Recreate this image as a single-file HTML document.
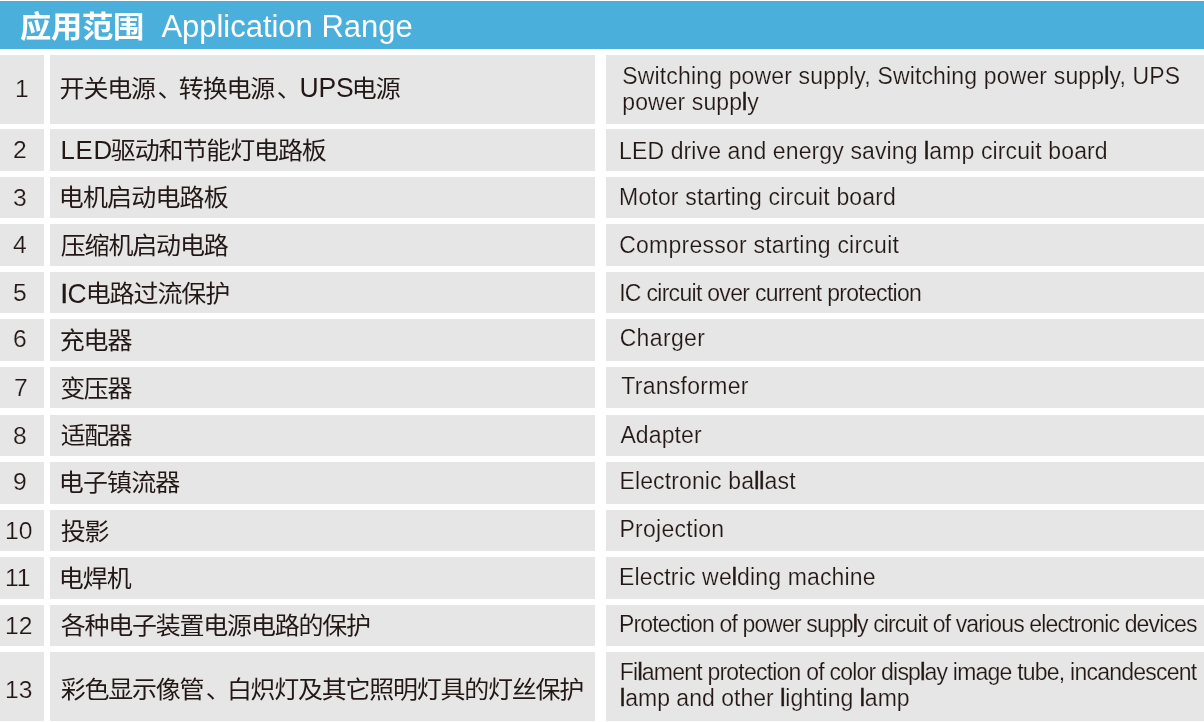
<!DOCTYPE html>
<html lang="zh"><head><meta charset="utf-8"><title>应用范围 Application Range</title>
<style>
html,body{margin:0;padding:0;background:#fff;}
body{width:1204px;height:722px;position:relative;overflow:hidden;font-family:"Liberation Sans","Noto Sans CJK SC",sans-serif;color:#231815;}
svg.bg{position:absolute;left:0;top:0;display:block;}
.t{position:absolute;white-space:nowrap;line-height:30px;height:30px;transform-origin:0 50%;}
.hz{font-size:31.3px;font-weight:bold;color:#fff;line-height:40px;height:40px;transform:scaleY(0.957);}
.he{font-size:31px;color:#fff;line-height:40px;height:40px;}
.n{font-size:23px;transform:scaleX(1.07);-webkit-text-stroke:0.18px #e6e6e6;}
.z{font-size:25px;transform:scaleY(0.945);}
.z i{font-style:normal;font-size:26.5px;line-height:1;letter-spacing:0.4px;display:inline-block;position:relative;top:1.7px;transform:scaleY(1.087);transform-origin:50% 85%;}
.z s{text-decoration:none;position:relative;left:2.5px;}
.z b{font-weight:normal;-webkit-text-stroke:0.5px #231815;margin-right:-1px}
.e{font-size:23px;-webkit-text-stroke:0.18px #e6e6e6;}
.e u{text-decoration:none;-webkit-text-stroke:0.5px #231815;}
</style></head><body>
<svg class="bg" width="1204" height="722" viewBox="0 0 1204 722">
<rect x="0" y="1" width="1204" height="48" fill="#4ab0db"/>
<g fill="#e6e6e6">
<rect x="0" y="55" width="44" height="69"/>
<rect x="50" y="55" width="545" height="69"/>
<rect x="606" y="55" width="598" height="69"/>
<rect x="0" y="129" width="44" height="42"/>
<rect x="50" y="129" width="545" height="42"/>
<rect x="606" y="129" width="598" height="42"/>
<rect x="0" y="177" width="44" height="41"/>
<rect x="50" y="177" width="545" height="41"/>
<rect x="606" y="177" width="598" height="41"/>
<rect x="0" y="224" width="44" height="42"/>
<rect x="50" y="224" width="545" height="42"/>
<rect x="606" y="224" width="598" height="42"/>
<rect x="0" y="272" width="44" height="41"/>
<rect x="50" y="272" width="545" height="41"/>
<rect x="606" y="272" width="598" height="41"/>
<rect x="0" y="319" width="44" height="42"/>
<rect x="50" y="319" width="545" height="42"/>
<rect x="606" y="319" width="598" height="42"/>
<rect x="0" y="367" width="44" height="41"/>
<rect x="50" y="367" width="545" height="41"/>
<rect x="606" y="367" width="598" height="41"/>
<rect x="0" y="415" width="44" height="41"/>
<rect x="50" y="415" width="545" height="41"/>
<rect x="606" y="415" width="598" height="41"/>
<rect x="0" y="462" width="44" height="42"/>
<rect x="50" y="462" width="545" height="42"/>
<rect x="606" y="462" width="598" height="42"/>
<rect x="0" y="510" width="44" height="41"/>
<rect x="50" y="510" width="545" height="41"/>
<rect x="606" y="510" width="598" height="41"/>
<rect x="0" y="557" width="44" height="42"/>
<rect x="50" y="557" width="545" height="42"/>
<rect x="606" y="557" width="598" height="42"/>
<rect x="0" y="605" width="44" height="41"/>
<rect x="50" y="605" width="545" height="41"/>
<rect x="606" y="605" width="598" height="41"/>
<rect x="0" y="652" width="44" height="69.15"/>
<rect x="50" y="652" width="545" height="69.15"/>
<rect x="606" y="652" width="598" height="69.15"/>
</g></svg>
<span id="hz" class="t hz" style="left:20.0px;top:6.8px;letter-spacing:-0.333px;">应用范围</span>
<span id="he" class="t he" style="left:161.4px;top:6.5px;letter-spacing:-0.022px;">Application Range</span>
<span id="n0" class="t n" style="left:14.7px;top:74.4px;letter-spacing:0px;">1</span>
<span id="z0" class="t z" style="left:59.6px;top:72.6px;letter-spacing:-1.164px;">开关电源<s>、</s>转换电源<s>、</s><i style="margin:0 -1.9px 0 1.5px;letter-spacing:-0.1px;top:1px">UPS</i>电源</span>
<span id="e0a" class="t e" style="left:622.25px;top:60.9px;letter-spacing:0.155px;">Switching power supply, Switching power supp<u>l</u>y, UPS</span>
<span id="e0b" class="t e" style="left:622.25px;top:86.6px;letter-spacing:0.086px;">power supp<u>l</u>y</span>
<span id="n1" class="t n" style="left:13.25px;top:135.0px;letter-spacing:0px;">2</span>
<span id="z1" class="t z" style="left:60.45px;top:135.0px;letter-spacing:-1.136px;"><i style="margin-right:-2.2px;letter-spacing:0.8px;font-size:25.8px;top:0.7px">LED</i>驱动和节能灯电路板</span>
<span id="e1a" class="t e" style="left:619.05px;top:135.91px;letter-spacing:0.118px;">LED drive and energy saving <u>l</u>amp circuit board</span>
<span id="n2" class="t n" style="left:13.25px;top:182.5px;letter-spacing:0px;">3</span>
<span id="z2" class="t z" style="left:58.75px;top:181.5px;letter-spacing:-0.842px;">电机启动电路板</span>
<span id="e2a" class="t e" style="left:619.05px;top:182.2px;letter-spacing:0.169px;">Motor starting circuit board</span>
<span id="n3" class="t n" style="left:13.45px;top:230.0px;letter-spacing:0px;">4</span>
<span id="z3" class="t z" style="left:60.75px;top:229.5px;letter-spacing:-1.175px;">压缩机启动电路</span>
<span id="e3a" class="t e" style="left:619.2px;top:229.5px;letter-spacing:0.237px;">Compressor starting circuit</span>
<span id="n4" class="t n" style="left:13.25px;top:277.55px;letter-spacing:0px;">5</span>
<span id="z4" class="t z" style="left:60.6px;top:277.55px;letter-spacing:-1.1px;"><i style="margin-right:-1.6px;letter-spacing:0.6px"><b>I</b>C</i>电路过流保护</span>
<span id="e4a" class="t e" style="left:619.2px;top:278.41px;letter-spacing:-0.705px;">IC circuit over current protection</span>
<span id="n5" class="t n" style="left:13.25px;top:324.02px;letter-spacing:0px;">6</span>
<span id="z5" class="t z" style="left:59.7px;top:324.52px;letter-spacing:-1.15px;">充电器</span>
<span id="e5a" class="t e" style="left:619.65px;top:322.6px;letter-spacing:0.367px;">Charger</span>
<span id="n6" class="t n" style="left:13.55px;top:372.6px;letter-spacing:0px;">7</span>
<span id="z6" class="t z" style="left:60.2px;top:373.1px;letter-spacing:-1.4px;">变压器</span>
<span id="e6a" class="t e" style="left:621.3px;top:371.01px;letter-spacing:0.27px;">Transformer</span>
<span id="n7" class="t n" style="left:13.25px;top:420.55px;letter-spacing:0px;">8</span>
<span id="z7" class="t z" style="left:60.7px;top:420.05px;letter-spacing:-1.55px;">适配器</span>
<span id="e7a" class="t e" style="left:620.4px;top:419.6px;letter-spacing:0.117px;">Adapter</span>
<span id="n8" class="t n" style="left:13.25px;top:466.9px;letter-spacing:0px;">9</span>
<span id="z8" class="t z" style="left:58.75px;top:466.9px;letter-spacing:-0.862px;">电子镇流器</span>
<span id="e8a" class="t e" style="left:619.45px;top:465.51px;letter-spacing:0.132px;">Electronic ba<u>ll</u>ast</span>
<span id="n9" class="t n" style="left:4.6px;top:515.5px;letter-spacing:0px;">10</span>
<span id="z9" class="t z" style="left:60.75px;top:515.5px;letter-spacing:-1.15px;">投影</span>
<span id="e9a" class="t e" style="left:619.45px;top:513.91px;letter-spacing:0.267px;">Projection</span>
<span id="n10" class="t n" style="left:4.6px;top:563.1px;letter-spacing:0px;">11</span>
<span id="z10" class="t z" style="left:58.75px;top:563.1px;letter-spacing:-1.0px;">电焊机</span>
<span id="e10a" class="t e" style="left:619.0px;top:561.6px;letter-spacing:0.148px;">Electric we<u>l</u>ding machine</span>
<span id="n11" class="t n" style="left:4.6px;top:611.12px;letter-spacing:0px;">12</span>
<span id="z11" class="t z" style="left:60.75px;top:610.12px;letter-spacing:-1.233px;">各种电子装置电源电路的保护</span>
<span id="e11a" class="t e" style="left:619.0px;top:608.61px;letter-spacing:-0.862px;">Protection of power supp<u>l</u>y circuit of various electronic devices</span>
<span id="n12" class="t n" style="left:4.6px;top:674.55px;letter-spacing:0px;">13</span>
<span id="z12" class="t z" style="left:60.75px;top:674.05px;letter-spacing:-1.267px;">彩色显示像管<s>、</s>白炽灯及其它照明灯具的灯丝保护</span>
<span id="e12a" class="t e" style="left:619.8px;top:657.21px;letter-spacing:-0.778px;">Fi<u>l</u>ament protection of color disp<u>l</u>ay image tube, incandescent</span>
<span id="e12b" class="t e" style="left:620.0px;top:683.41px;letter-spacing:0.024px;"><u>l</u>amp and other <u>l</u>ighting <u>l</u>amp</span>
</body></html>
